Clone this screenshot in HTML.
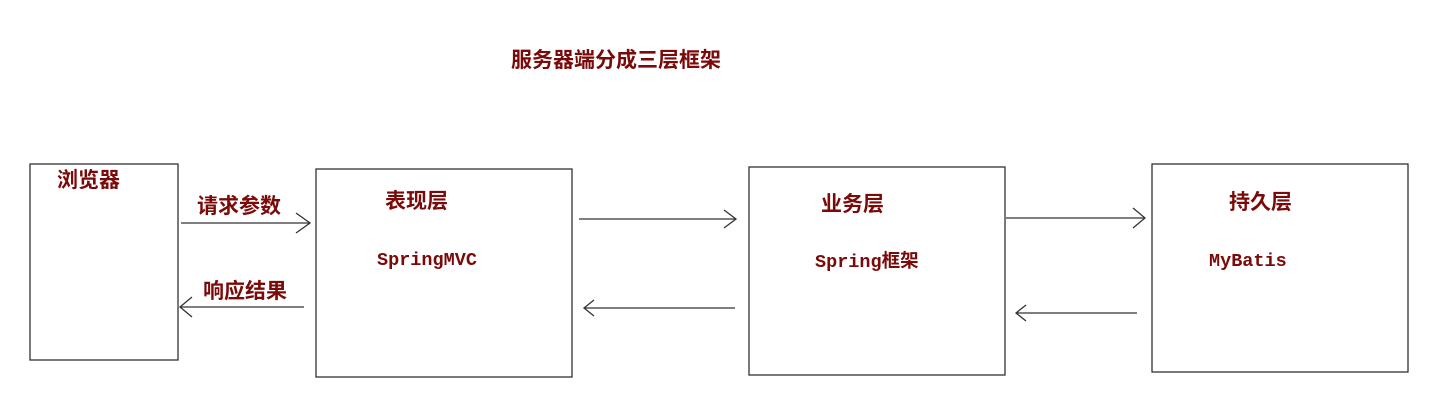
<!DOCTYPE html>
<html><head><meta charset="utf-8"><style>
html,body{margin:0;padding:0;background:#fff;}
svg{display:block}
text{font-family:"Liberation Sans","Noto Sans CJK SC",sans-serif;font-weight:bold;fill:#7a0a0a;font-size:21px}
.m{font-family:"Liberation Mono","Noto Sans CJK SC",monospace;font-size:18.5px}
</style></head><body>
<svg width="1449" height="414" viewBox="0 0 1449 414" xmlns="http://www.w3.org/2000/svg">
<g fill="none" stroke="#333" stroke-width="1.3">
<rect x="30" y="164" width="148" height="196"/>
<rect x="316" y="169" width="256" height="208"/>
<rect x="749" y="167" width="256" height="208"/>
<rect x="1152" y="164" width="256" height="208"/>
<line x1="181" y1="223" x2="310" y2="223"/><polyline points="296,213 310,223 296,233"/>
<line x1="304" y1="307" x2="180" y2="307"/><polyline points="192,297 180,307 192,317"/>
<line x1="579" y1="219" x2="736" y2="219"/><polyline points="724,210 736,219 724,228"/>
<line x1="735" y1="308" x2="584" y2="308"/><polyline points="594,300 584,308 594,316"/>
<line x1="1006" y1="218" x2="1145" y2="218"/><polyline points="1133,208 1145,218 1133,228"/>
<line x1="1137" y1="313" x2="1016" y2="313"/><polyline points="1026,305 1016,313 1026,321"/>
</g>
<text x="511" y="67">服务器端分成三层框架</text>
<text x="57" y="187">浏览器</text>
<text x="197" y="213">请求参数</text>
<text x="203" y="298">响应结果</text>
<text x="385" y="208">表现层</text>
<text class="m" x="377" y="265">SpringMVC</text>
<text x="821" y="211">业务层</text>
<text class="m" x="815" y="267">Spring框架</text>
<text x="1229" y="209">持久层</text>
<text class="m" x="1209" y="266">MyBatis</text>
</svg>
</body></html>
